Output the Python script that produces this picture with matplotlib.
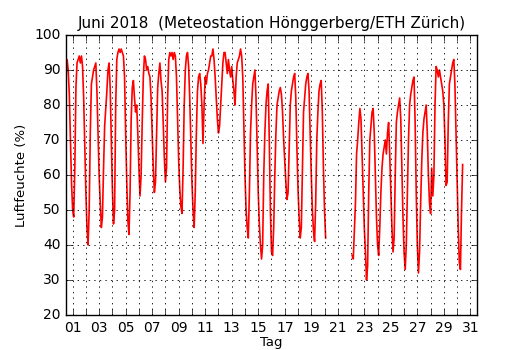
import numpy as np
import matplotlib
matplotlib.use('Agg')
from matplotlib import pyplot as plt

plt.style.use('classic')

# relative humidity (%) in June 2018, one value every 2 hours (00, 02, ..., 22 h)
nan = np.nan
humidity = [
    88, 93, 90, 83, 70, 58, 50, 48, 62, 85, 92, 93,   # 01
    94, 92, 94, 91, 82, 68, 55, 45, 40, 50, 72, 86,   # 02
    88, 90, 91, 92, 84, 72, 60, 52, 45, 48, 62, 74,   # 03
    79, 84, 90, 92, 85, 70, 56, 46, 50, 80, 93, 95,   # 04
    96, 95, 96, 95, 94, 88, 72, 58, 47, 43, 55, 76,   # 05
    85, 87, 82, 78, 80, 72, 62, 54, 60, 75, 88, 94,   # 06
    93, 90, 91, 89, 88, 82, 72, 62, 55, 58, 72, 85,   # 07
    89, 92, 87, 84, 75, 65, 58, 62, 82, 93, 95, 94,   # 08
    95, 93, 95, 94, 88, 76, 64, 56, 51, 49, 62, 80,   # 09
    90, 94, 95, 91, 82, 70, 58, 50, 45, 55, 72, 84,   # 10
    88, 89, 86, 80, 69, 80, 88, 86, 89, 90, 92, 94,   # 11
    94, 96, 93, 88, 82, 76, 72, 74, 80, 86, 92, 95,   # 12
    95, 92, 89, 93, 90, 88, 91, 87, 84, 80, 88, 92,   # 13
    93, 94, 96, 94, 88, 74, 60, 50, 45, 42, 55, 72,   # 14
    80, 86, 88, 90, 82, 68, 55, 46, 40, 36, 40, 60,   # 15
    72, 80, 84, 86, 70, 50, 38, 37, 45, 60, 72, 80,   # 16
    82, 84, 85, 83, 78, 70, 64, 58, 53, 55, 68, 80,   # 17
    84, 86, 88, 89, 82, 68, 56, 48, 42, 45, 62, 78,   # 18
    82, 86, 88, 89, 84, 72, 60, 50, 44, 41, 52, 70,   # 19
    78, 84, 86, 87, 78, 62, 50, 42, nan, nan, nan, nan,   # 20
    nan, nan, nan, nan, nan, nan, nan, nan, nan, nan, nan, nan,  # 21
    nan, nan, nan, nan, nan, nan, nan, 37, 36, 44, 52, 66,   # 22
    70, 75, 79, 76, 66, 55, 45, 38, 30, 34, 55, 70,   # 23
    74, 78, 79, 72, 60, 48, 40, 37, 45, 55, 62, 66,   # 24
    68, 70, 66, 72, 75, 66, 55, 45, 38, 42, 60, 75,   # 25
    78, 80, 82, 76, 62, 48, 38, 33, 40, 55, 70, 80,   # 26
    83, 85, 87, 88, 75, 55, 40, 32, 38, 52, 64, 72,   # 27
    76, 78, 80, 72, 60, 52, 49, 62, 54, 60, 80, 91,   # 28
    90, 88, 90, 88, 86, 84, 80, 70, 57, 58, 75, 86,   # 29
    88, 90, 92, 93, 86, 72, 58, 45, 35, 33, 50, 63,   # 30
]
days = np.arange(1, 32)

t = np.arange(len(humidity)) * 2 / 24.0   # days since 1 June 00:00
rh = np.array(humidity, dtype=float)

fig = plt.figure(figsize=(5.3, 3.5), dpi=100, facecolor='white')
ax = fig.add_axes([0.1245, 0.1, 0.7755, 0.8])

ax.plot(t, rh, color='red', lw=1.2)

ax.set_xlim(0, 31)
ax.set_ylim(20, 100)
ax.set_xticks(days - 0.5)
ax.set_xticklabels(['%02d' % d if d % 2 else '' for d in days])
ax.set_yticks(np.arange(20, 101, 10))
ax.tick_params(labelsize=10, pad=4)
ax.grid(True, color='black', linestyle=':', lw=0.6)

ax.set_xlabel('Tag', fontsize=9.5, labelpad=1)
ax.set_ylabel('Luftfeuchte (%)', fontsize=9.5, labelpad=4)
ax.set_title('Juni 2018  (Meteostation Hönggerberg/ETH Zürich)', fontsize=11)

plt.savefig('out.png', dpi=100, facecolor='white')
